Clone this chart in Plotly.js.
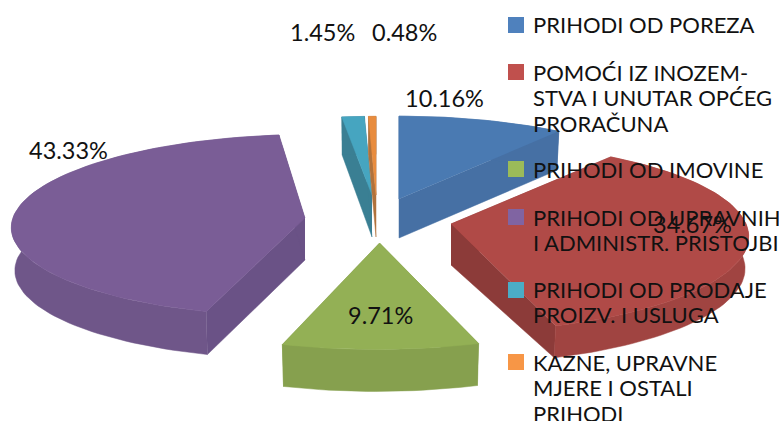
<!DOCTYPE html>
<html><head><meta charset="utf-8">
<script src="https://cdn.plot.ly/plotly-3.0.1.min.js"></script>
<style>html,body{margin:0;padding:0;background:#fff}</style></head>
<body><div id="chart" style="width:779px;height:421px"></div>
<script>
// Data
var categories = ['PRIHODI OD POREZA','POMOĆI IZ INOZEM-<br>STVA I UNUTAR OPĆEG<br>PRORAČUNA','PRIHODI OD IMOVINE','PRIHODI OD UPRAVNIH<br>I ADMINISTR. PRISTOJBI','PRIHODI OD PRODAJE<br>PROIZV. I USLUGA','KAZNE, UPRAVNE<br>MJERE I OSTALI<br>PRIHODI'];
var percentValues = [10.16, 34.67, 9.71, 43.33, 1.45, 0.48];
var percentLabels = ['10.16%','34.67%','9.71%','43.33%','1.45%','0.48%'];
// Styles
var legendColors = ['#4f81bd','#c0504d','#9bbb59','#8064a2','#4bacc6','#f79646'];
var topColors   = ['#4a7ab2','#b04a47','#93b055','#7a5d96','#46a5c0','#e88c3e'];
var wallColors  = ['#4670a4','#8c3b39','#869f4e','#6a5286','#3a7f93','#b0723c'];
var arcColors   = ['#4670a4','#a04441','#86a04e','#6f5689','#3a7f93','#b0723c'];
// 3D look: exploded apex, shear, perspective, scales, thickness at apex and rim
var apexX  = [399, 451, 379.5, 305, 372, 376];
var apexY  = [199, 224, 243, 218, 195, 195];
var shear  = [0, 2, 3, 7.5, 0, 0];
var persp  = [0.1, 0.14, 0.1, 0.08, 0.1, 0.1];
var ryK    = [1, 1, 1.03, 0.98, 1, 1];
var radial = [0.98, 1, 1, 0.99, 0.93, 0.93];
var thickA = [39, 41, 40, 42, 42, 42];
var thickR = [39, 32, 42, 43, 38, 38];
var labelX = [444, 692, 380, 68, 322, 404];
var labelY = [98, 224, 315, 150, 32, 32];
var drawOrder = [4, 5, 3, 0, 1, 2];
var swatchY = [25, 72, 169, 217, 290, 362];
var textY   = [24, 72, 169, 217, 289, 362];
var lineGap = 25.6;
var swatchX = 516, textX = 531;
var RX = 295, RY = 93, SHRINK = 0.012;

var total = percentValues.reduce(function (a, b) { return a + b; }, 0);
var starts = [], ends = [], acc = 0;
percentValues.forEach(function (v) { starts.push(acc / total * 2 * Math.PI); acc += v; ends.push(acc / total * 2 * Math.PI); });

function rim(i, t) {
  var s = Math.sin(t), c = Math.cos(t), d = 1 + persp[i] * c, k = radial[i];
  return [k * (RX * s + shear[i] * c) / d, -k * ryK[i] * RY * c / d];
}
function arc(i) {
  var pts = [], n = Math.max(2, Math.ceil((ends[i] - starts[i]) / 0.03));
  for (var j = 0; j <= n; j++) pts.push(rim(i, starts[i] + (ends[i] - starts[i]) * j / n));
  return pts;
}
function poly(xs, ys, color) {
  return {type: 'scatter', mode: 'lines', x: xs, y: ys, fill: 'toself', fillcolor: color,
    line: {color: color, width: 0.5}, hoverinfo: 'skip', showlegend: false};
}
var traces = [];
drawOrder.forEach(function (i) {
  var ax = apexX[i], ay = apexY[i], a = arc(i);
  var tx = a.map(function (p) { return ax + p[0]; }), ty = a.map(function (p) { return ay + p[1]; });
  var bx = a.map(function (p) { return ax + p[0] * (1 - SHRINK); }), by = a.map(function (p) { return ay + p[1] + thickR[i]; });
  var L = a.length - 1;
  traces.push(poly([ax, tx[0], bx[0], ax], [ay, ty[0], by[0], ay + thickA[i]], wallColors[i]));
  traces.push(poly([ax, tx[L], bx[L], ax], [ay, ty[L], by[L], ay + thickA[i]], wallColors[i]));
  traces.push(poly(tx.concat(bx.slice().reverse()), ty.concat(by.slice().reverse()), arcColors[i]));
  traces.push(poly([ax].concat(tx), [ay].concat(ty), topColors[i]));
});
// Legend swatches
traces.push({type: 'scatter', mode: 'markers', x: swatchY.map(function () { return swatchX; }), y: swatchY,
  marker: {symbol: 'square', size: 16, color: legendColors}, hoverinfo: 'skip', showlegend: false});

var annotations = percentLabels.map(function (t, i) {
  return {text: t, x: labelX[i], y: labelY[i], xref: 'x', yref: 'y', showarrow: false,
    xanchor: 'center', yanchor: 'middle', font: {family: 'Lato', size: 23.5, color: '#111'}};
});
categories.forEach(function (name, i) {
  name.split('<br>').forEach(function (line, j) {
    annotations.push({text: line, x: textX, y: textY[i] + j * lineGap, xref: 'x', yref: 'y', showarrow: false,
      xanchor: 'left', yanchor: 'middle', font: {family: 'Lato', size: 22, color: '#111'}});
  });
});
Plotly.newPlot('chart', traces, {
  width: 779, height: 421, margin: {l: 0, r: 0, t: 0, b: 0},
  paper_bgcolor: '#fff', plot_bgcolor: '#fff',
  xaxis: {range: [0, 779], visible: false, fixedrange: true},
  yaxis: {range: [421, 0], visible: false, fixedrange: true},
  annotations: annotations,
  showlegend: false
}, {displayModeBar: false, staticPlot: true});
</script></body></html>
